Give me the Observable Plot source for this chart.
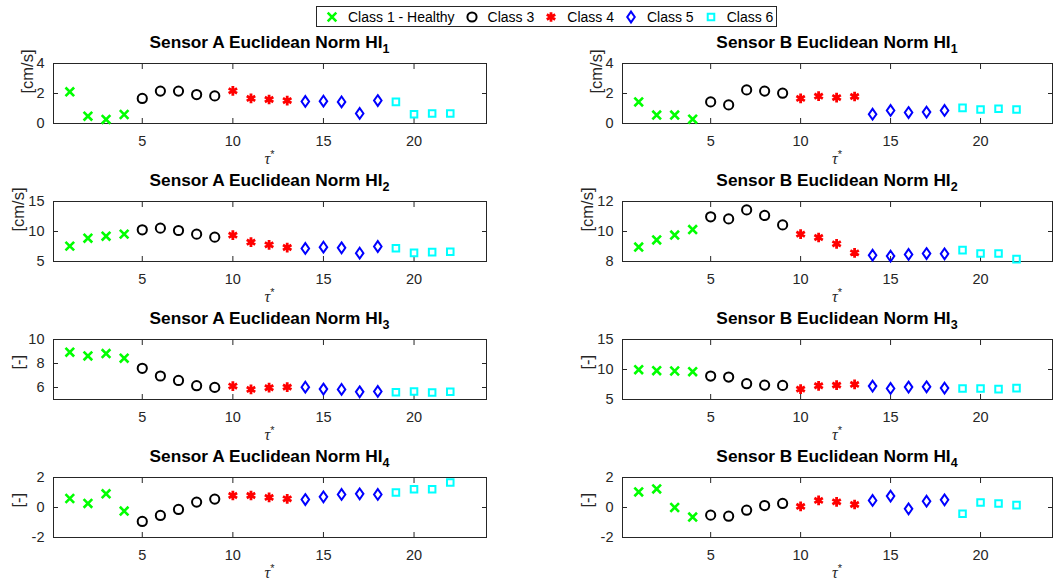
<!DOCTYPE html>
<html>
<head>
<meta charset="utf-8">
<script src="https://cdn.jsdelivr.net/npm/d3@7"></script>
<script src="https://cdn.jsdelivr.net/npm/@observablehq/plot@0.6"></script>
<style>
  body { margin: 0; background: #fff; }
  #chart { position: relative; width: 1057px; height: 582px; font-family: "Liberation Sans", Arial, sans-serif; overflow: hidden; }
  .cell { position: absolute; }
  .title { position: absolute; text-align: center; font-weight: bold; font-size: 17.3px; line-height: 20px; color: #000; white-space: nowrap; }
  .title .sub { font-size: 12.5px; position: relative; top: 5px; }
  .xlab { position: absolute; text-align: center; font-family: "Liberation Serif", "DejaVu Serif", serif; font-style: italic; font-size: 16px; line-height: 8px; color: #262626; }
  .xlab .sup { font-style: normal; font-family: "Liberation Sans", Arial, sans-serif; font-size: 11px; position: relative; top: -6px; }
  #legend { position: absolute; left: 316px; top: 6px; height: 21px; box-sizing: border-box; border: 1px solid #262626; display: flex; align-items: center; padding: 0 3px 0 7px; font-size: 14px; color: #000; background: #fff; }
  #legend .item { display: flex; align-items: center; }
  #legend .item span { margin-left: 8px; }
  #legend svg { display: block; }
</style>
</head>
<body>
<div id="chart"></div>
<script>
// Time index τ* of each measurement
const tau = [1, 2, 3, 4, 5, 6, 7, 8, 9, 10, 11, 12, 13, 14, 15, 16, 17, 18, 19, 20, 21, 22];
// Damage class of each measurement
const classIds = [1, 1, 1, 1, 3, 3, 3, 3, 3, 4, 4, 4, 4, 5, 5, 5, 5, 5, 6, 6, 6, 6];
const classNames = ["Class 1 - Healthy", "Class 3", "Class 4", "Class 5", "Class 6"];
const classKeys = [1, 3, 4, 5, 6];

// Health indicators, sensor A and sensor B
const sensorA_HI1 = [2.11, 0.49, 0.27, 0.60, 1.67, 2.16, 2.16, 1.93, 1.84, 2.18, 1.67, 1.60, 1.53, 1.47, 1.49, 1.44, 0.67, 1.53, 1.44, 0.62, 0.67, 0.67];
const sensorB_HI1 = [1.44, 0.56, 0.56, 0.29, 1.44, 1.24, 2.24, 2.16, 2.02, 1.67, 1.82, 1.73, 1.80, 0.62, 0.87, 0.73, 0.76, 0.87, 1.04, 0.93, 0.98, 0.93];
const sensorA_HI2 = [7.56, 8.89, 9.22, 9.56, 10.28, 10.56, 10.17, 9.56, 9.06, 9.39, 8.22, 7.78, 7.33, 7.17, 7.39, 7.28, 6.39, 7.50, 7.22, 6.44, 6.56, 6.61];
const sensorB_HI2 = [8.96, 9.44, 9.76, 10.13, 10.98, 10.84, 11.44, 11.07, 10.44, 9.82, 9.60, 9.18, 8.58, 8.42, 8.36, 8.47, 8.53, 8.51, 8.76, 8.53, 8.53, 8.16];
const sensorA_HI3 = [8.94, 8.63, 8.83, 8.44, 7.60, 6.96, 6.59, 6.15, 6.01, 6.12, 5.84, 5.98, 6.03, 6.03, 5.87, 5.84, 5.64, 5.67, 5.61, 5.67, 5.59, 5.64];
const sensorB_HI3 = [9.97, 9.80, 9.75, 9.64, 8.91, 8.74, 7.63, 7.40, 7.35, 6.73, 7.29, 7.40, 7.51, 7.23, 6.84, 7.07, 7.12, 6.90, 6.84, 6.84, 6.73, 6.90];
const sensorA_HI4 = [0.60, 0.27, 0.91, -0.24, -0.93, -0.53, -0.13, 0.36, 0.56, 0.80, 0.80, 0.67, 0.58, 0.53, 0.71, 0.87, 0.91, 0.87, 1.00, 1.22, 1.22, 1.67];
const sensorB_HI4 = [1.04, 1.24, 0.00, -0.64, -0.51, -0.58, -0.18, 0.13, 0.27, 0.07, 0.47, 0.38, 0.20, 0.47, 0.76, -0.09, 0.42, 0.51, -0.42, 0.33, 0.27, 0.16];

// Axis settings
const xTicks = [5, 10, 15, 20];
const xDomain = [0.1, 24];
const yDomains = {
  A1: [0, 4], B1: [0, 4],
  A2: [5, 15], B2: [8, 12],
  A3: [5, 10], B3: [5, 15],
  A4: [-2, 2], B4: [-2, 2]
};
const yTicks = {
  A1: [0, 2, 4], B1: [0, 2, 4],
  A2: [5, 10, 15], B2: [8, 10, 12],
  A3: [6, 8, 10], B3: [5, 10, 15],
  A4: [-2, 0, 2], B4: [-2, 0, 2]
};
const yLabels = ["[cm/s]", "[cm/s]", "[-]", "[-]"];
const seriesA = [sensorA_HI1, sensorA_HI2, sensorA_HI3, sensorA_HI4];
const seriesB = [sensorB_HI1, sensorB_HI2, sensorB_HI3, sensorB_HI4];

// A rhombus a little taller than wide
const tallDiamond = {
  draw(context, size) {
    const h = Math.sqrt(size / 1.4), w = 0.7 * h;
    context.moveTo(0, -h);
    context.lineTo(w, 0);
    context.lineTo(0, h);
    context.lineTo(-w, 0);
    context.closePath();
  }
};

// Marker look for each class
const markerStyle = {
  1: {color: "#00ff00", symbol: d3.symbolTimes, r: 4, sw: 2.6},
  3: {color: "#000000", symbol: d3.symbolCircle, r: 4.6, sw: 2},
  4: {color: "#ff0000", symbol: d3.symbolAsterisk, r: 4.6, sw: 2.8},
  5: {color: "#0000ff", symbol: tallDiamond, r: 3.6, sw: 2},
  6: {color: "#00ffff", symbol: d3.symbolSquare, r: 3.7, sw: 2}
};

const ink = "#262626";
const columns = {
  A: {svgLeft: 0, svgWidth: 530, frameLeft: 53, frameRight: 486},
  B: {svgLeft: 530, svgWidth: 527, frameLeft: 622, frameRight: 1052}
};
const frameTops = [63, 201, 339, 477];
const frameH = 60, padTop = 12, svgH = 138;

const chart = document.getElementById("chart");

function drawPanel(sensor, row, values) {
  const key = sensor + (row + 1);
  const col = columns[sensor];
  const top = frameTops[row];
  const rows = tau.map((t, i) => ({tau: t, v: values[i], cls: classIds[i]}));
  const twoDigit = yTicks[key].some(t => String(t).length > 1);

  const dots = classKeys.map(c => {
    const s = markerStyle[c];
    return Plot.dot(rows.filter(d => d.cls === c), {
      x: "tau", y: "v", symbol: s.symbol, r: s.r,
      stroke: s.color, strokeWidth: s.sw, fill: "none"
    });
  });

  const svg = Plot.plot({
    width: col.svgWidth,
    height: svgH,
    marginLeft: col.frameLeft - col.svgLeft,
    marginRight: col.svgLeft + col.svgWidth - col.frameRight,
    marginTop: padTop,
    marginBottom: svgH - padTop - frameH,
    style: {background: "transparent", overflow: "visible", color: ink, fontSize: "14.5px", fontFamily: "Liberation Sans, Arial, sans-serif"},
    x: {domain: xDomain},
    y: {domain: yDomains[key]},
    marks: [
      Plot.axisX({anchor: "bottom", ticks: xTicks, tickSize: -5, tickPadding: 17, tickFormat: d => String(d), label: null}),
      Plot.axisX({anchor: "top", ticks: xTicks, tickSize: -5, tickFormat: () => "", label: null}),
      Plot.axisY({anchor: "left", ticks: yTicks[key], tickSize: -5, tickPadding: 14, tickFormat: d => String(d), label: null}),
      Plot.axisY({anchor: "right", ticks: yTicks[key], tickSize: -5, tickFormat: () => "", label: null}),
      Plot.frame({stroke: ink, strokeWidth: 1}),
      Plot.text([yLabels[row]], {
        frameAnchor: "left", text: d => d, rotate: -90,
        dx: twoDigit ? -34.5 : -25.5, fontSize: 16.5, fill: ink
      }),
      ...dots
    ]
  });
  const cell = document.createElement("div");
  cell.className = "cell";
  cell.style.left = col.svgLeft + "px";
  cell.style.top = (top - padTop) + "px";
  cell.appendChild(svg);
  chart.appendChild(cell);

  // Panel title with subscripted indicator number
  const title = document.createElement("div");
  title.className = "title";
  title.style.left = col.frameLeft + "px";
  title.style.width = (col.frameRight - col.frameLeft) + "px";
  title.style.top = (top - 31) + "px";
  title.innerHTML = `Sensor ${sensor} Euclidean Norm HI<span class="sub">${row + 1}</span>`;
  chart.appendChild(title);

  // x-axis label τ*
  const xl = document.createElement("div");
  xl.className = "xlab";
  xl.style.left = col.frameLeft + "px";
  xl.style.width = (col.frameRight - col.frameLeft) + "px";
  xl.style.top = (top + frameH + 32) + "px";
  xl.innerHTML = `τ<span class="sup">*</span>`;
  chart.appendChild(xl);
}

for (let r = 0; r < 4; r++) {
  drawPanel("A", r, seriesA[r]);
  drawPanel("B", r, seriesB[r]);
}

// Legend across the top
const legend = document.createElement("div");
legend.id = "legend";
classKeys.forEach((c, i) => {
  const s = markerStyle[c];
  const item = document.createElement("div");
  item.className = "item";
  if (i < classKeys.length - 1) item.style.marginRight = "9px";
  const path = d3.symbol(s.symbol, Math.PI * s.r * s.r)();
  item.innerHTML = `<svg width="16" height="16"><path transform="translate(8,8)" d="${path}" fill="none" stroke="${s.color}" stroke-width="${s.sw}"/></svg><span>${classNames[i]}</span>`;
  legend.appendChild(item);
});
chart.appendChild(legend);
</script>
</body>
</html>
